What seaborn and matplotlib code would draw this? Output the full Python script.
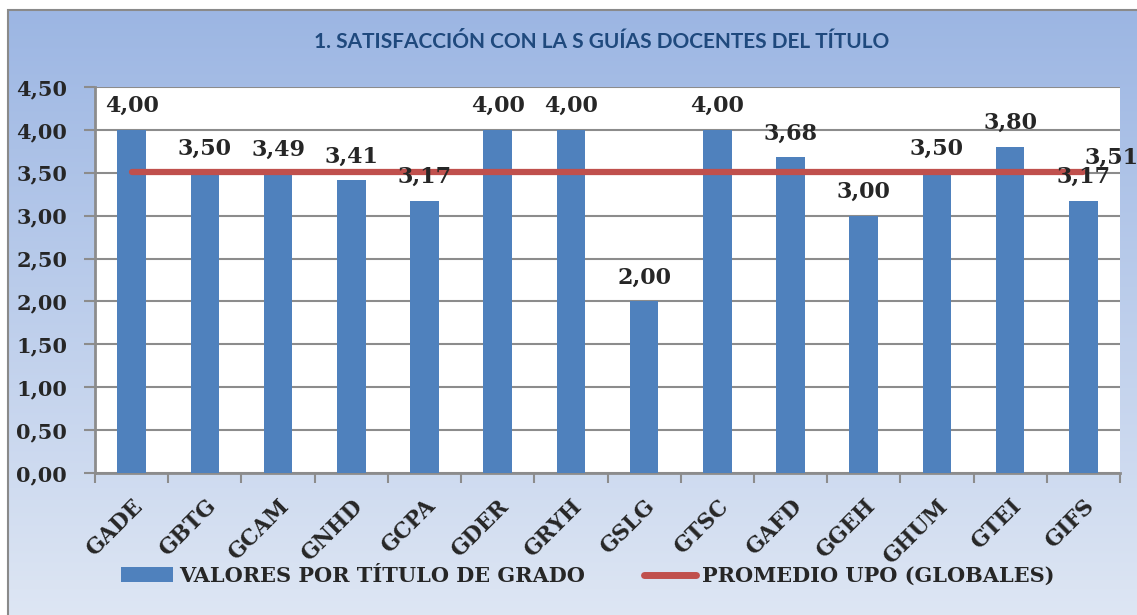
import numpy as np
import matplotlib
matplotlib.use("Agg")
import matplotlib.pyplot as plt
import seaborn as sns
import pandas as pd
from matplotlib.patches import Patch, Rectangle
from matplotlib.lines import Line2D
from matplotlib.colors import LinearSegmentedColormap

categories = ["GADE", "GBTG", "GCAM", "GNHD", "GCPA", "GDER", "GRYH",
              "GSLG", "GTSC", "GAFD", "GGEH", "GHUM", "GTEI", "GIFS"]
values = [4.00, 3.50, 3.49, 3.41, 3.17, 4.00, 4.00,
          2.00, 4.00, 3.68, 3.00, 3.50, 3.80, 3.17]
promedio = 3.51
yticks = [0.0, 0.5, 1.0, 1.5, 2.0, 2.5, 3.0, 3.5, 4.0, 4.5]
title = "1. SATISFACCIÓN CON LA S GUÍAS DOCENTES DEL TÍTULO"
legend_bar = "VALORES POR TÍTULO DE GRADO"
legend_line = "PROMEDIO UPO (GLOBALES)"

BAR = "#4F81BD"
LINE = "#C0504D"
GRID = "#8C8C8C"
SERIF = "DejaVu Serif"

sns.set_theme(style="white")
plt.rcParams["font.family"] = ["DejaVu Serif", "DejaVu Sans"]

W, H = 1137, 615
fig = plt.figure(figsize=(W / 100, H / 100), dpi=100)
fig.patch.set_facecolor("white")

# background gradient panel
bg = fig.add_axes([0, 0, 1, 1], zorder=-5)
grad = np.linspace(0, 1, 256).reshape(-1, 1)
cmap = LinearSegmentedColormap.from_list("bg", ["#9CB6E3", "#DFE7F4"])
bg.imshow(grad, aspect="auto", cmap=cmap, extent=[8 / W, 1.02, -0.02, 1 - 10 / H],
          transform=bg.transAxes)
bg.add_patch(Rectangle((8 / W, -0.02), 1.02, 1 - 10 / H + 0.02, fill=False,
                       edgecolor="#8A8A8A", lw=1.5, transform=bg.transAxes))
bg.set_xlim(0, 1)
bg.set_ylim(0, 1)
bg.axis("off")

left, right = 95 / W, 1120 / W
bottom, top = 1 - 473 / H, 1 - 87 / H
ax = fig.add_axes([left, bottom, right - left, top - bottom])
ax.set_facecolor("white")

df = pd.DataFrame({"cat": categories, "val": values})
sns.barplot(data=df, x="cat", y="val", color=BAR, width=0.39, saturation=1,
            linewidth=0, ax=ax, zorder=3)

xs = np.arange(len(categories))
ax.plot(xs, [promedio] * len(categories), color=LINE, lw=4.5,
        solid_capstyle="round", zorder=4)

ax.set_ylim(0, 4.5)
ax.set_xlim(-0.5, len(categories) - 0.5)
ax.set_yticks(yticks)
ax.set_yticklabels([f"{t:.2f}".replace(".", ",") for t in yticks],
                   fontsize=15, fontweight="bold", family=SERIF)
ax.set_xticks(xs)
ax.set_xticklabels(categories, rotation=45, ha="right", rotation_mode="anchor",
                   fontsize=15.5, fontweight="bold", family=SERIF)
ax.set_xticks(np.arange(len(categories) + 1) - 0.5, minor=True)
ax.tick_params(axis="x", which="major", length=0, pad=16)
ax.tick_params(axis="x", which="minor", length=7, width=1.5, color=GRID,
               direction="out", bottom=True)
ax.tick_params(axis="y", length=8, width=1.5, color=GRID, direction="out",
               left=True, pad=12)
ax.set_xlabel("")
ax.set_ylabel("")
ax.grid(axis="y", color=GRID, lw=1.5, zorder=0)
ax.set_axisbelow(True)
for s in ["top", "right"]:
    ax.spines[s].set_visible(False)
for s in ["left", "bottom"]:
    ax.spines[s].set_color(GRID)
    ax.spines[s].set_linewidth(2)

for x, v in zip(xs, values):
    ax.annotate(f"{v:.2f}".replace(".", ","), (x, v), xytext=(0, 13),
                textcoords="offset points", ha="center", va="baseline",
                fontsize=16, fontweight="bold", family=SERIF, zorder=5)

ax.annotate(f"{promedio:.2f}".replace(".", ","), (len(categories) - 1, promedio),
            xytext=(1, 6), textcoords="offset points", ha="left", va="baseline",
            fontsize=16, fontweight="bold", family=SERIF, annotation_clip=False,
            zorder=6)

fig.text(602 / W, 1 - 42 / H, title, ha="center", va="center", fontsize=15,
         fontweight="bold", color="#1F497D", family=["Lato", "DejaVu Sans"])

handles = [Patch(facecolor=BAR, edgecolor="none"),
           Line2D([0], [0], color=LINE, lw=5, solid_capstyle="round")]
fig.legend(handles, [legend_bar, legend_line], loc="center",
           bbox_to_anchor=(0.517, 1 - 576 / H), ncol=2, frameon=False,
           prop={"family": SERIF, "weight": "bold", "size": 15},
           handlelength=2.5, handleheight=0.72, handletextpad=0.3,
           columnspacing=2.8)

fig.savefig("out.png", dpi=100)
